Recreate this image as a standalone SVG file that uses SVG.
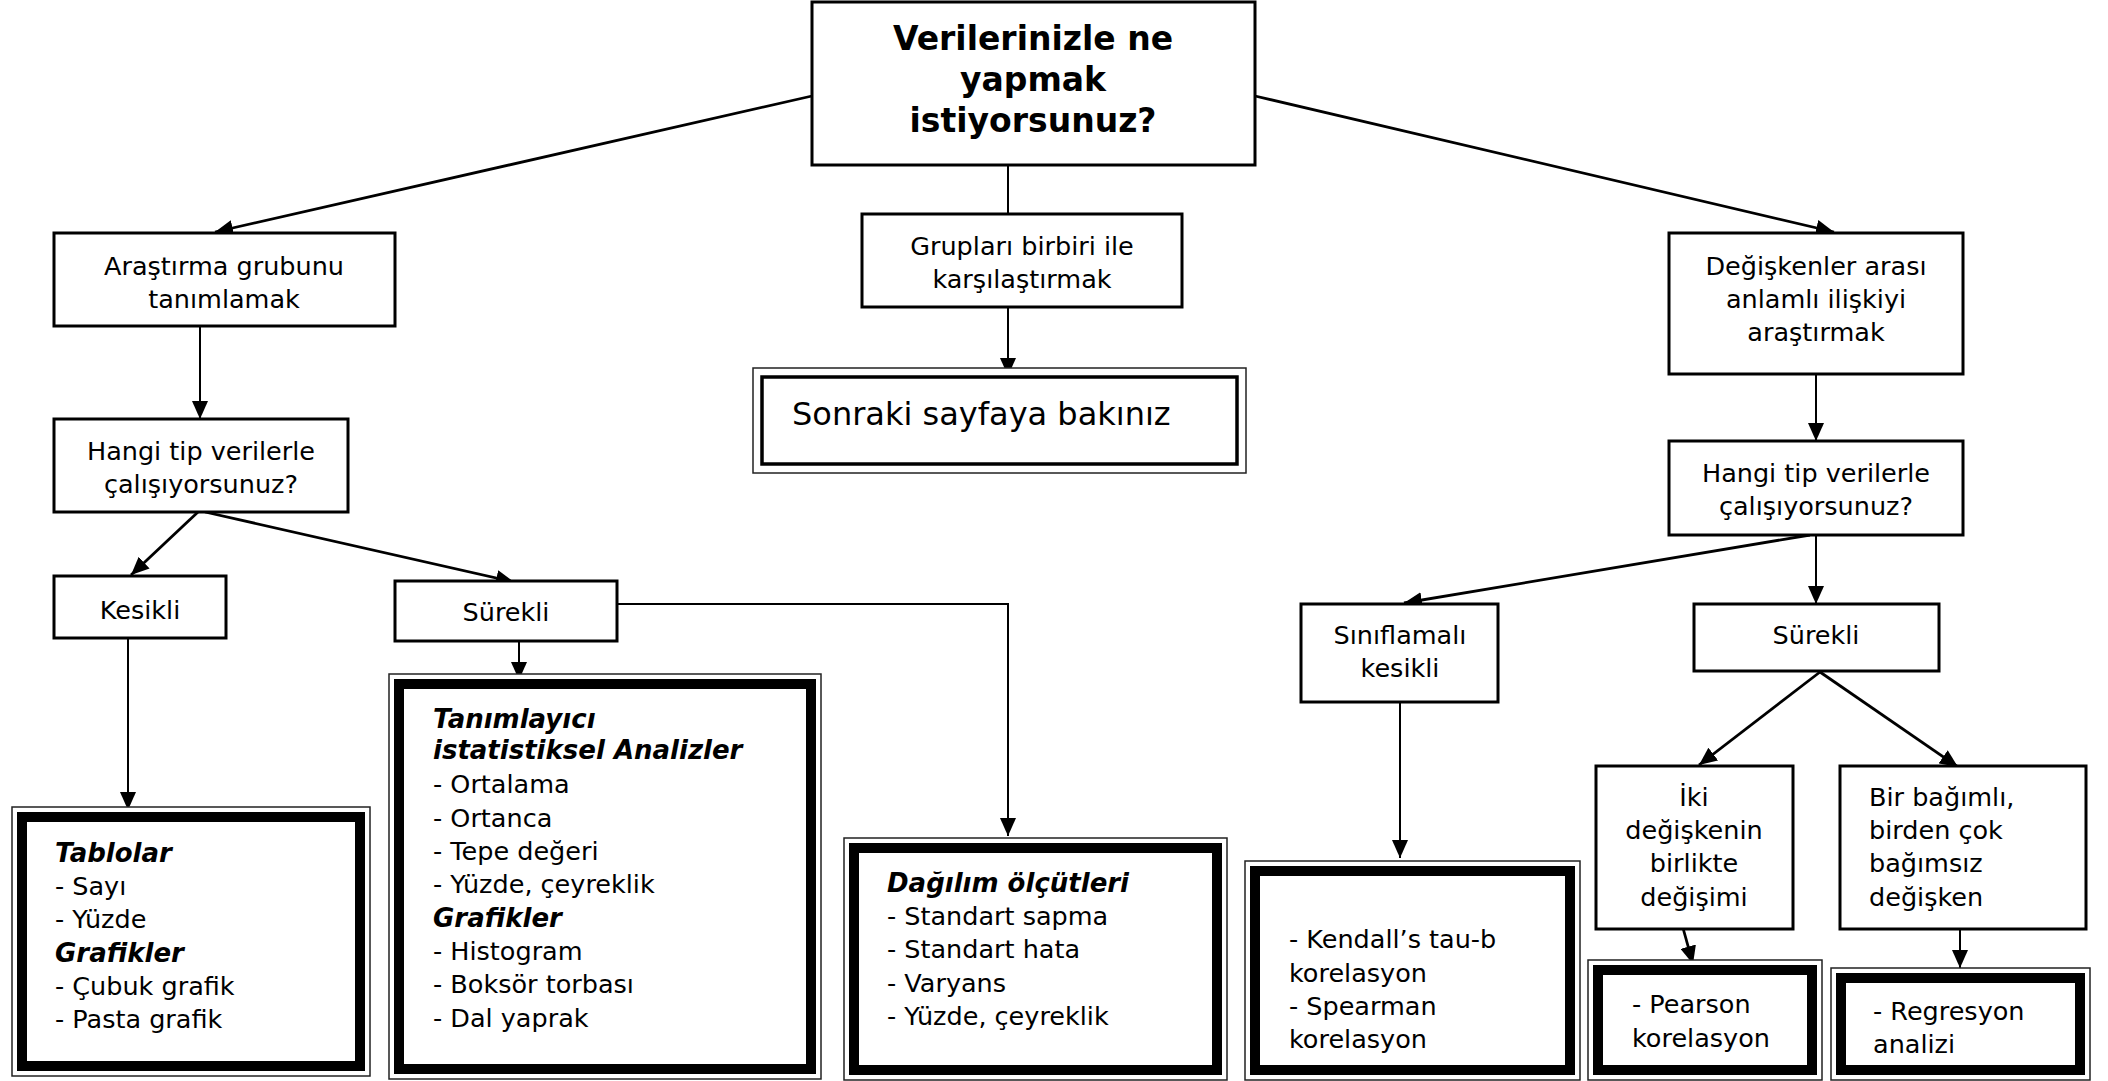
<svg xmlns="http://www.w3.org/2000/svg" width="2108" height="1081" viewBox="0 0 2108 1081">
<defs>
<style>
text{font-family:Verdana,"DejaVu Sans",sans-serif;font-size:25.5px;fill:#000}
.c{text-anchor:middle}
.bi{font-weight:bold;font-style:italic;font-size:26px}
.title{font-weight:bold;font-size:33px;text-anchor:middle}
.box{fill:#fff;stroke:#000;stroke-width:3}
.o{fill:#fff;stroke:#222;stroke-width:1.5}
.t{fill:none;stroke:#000;stroke-width:10}
.dl{fill:none;stroke:#000;stroke-width:3.5}
.ln{fill:none;stroke:#000;stroke-width:2}
.ld{fill:none;stroke:#000;stroke-width:2.8}
</style>
<marker id="ah" viewBox="0 0 18 16" refX="18" refY="8" markerWidth="18" markerHeight="16" markerUnits="userSpaceOnUse" orient="auto">
<path d="M0,0 L18,8 L0,16 Z" fill="#000"/>
</marker>
</defs>
<rect width="2108" height="1081" fill="#fff"/>

<g id="connectors">
<line class="ld" x1="812" y1="96" x2="215" y2="232" marker-end="url(#ah)"/>
<line class="ln" x1="1008" y1="165" x2="1008" y2="214"/>
<line class="ln" x1="1008" y1="307" x2="1008" y2="376" marker-end="url(#ah)"/>
<line class="ld" x1="1255" y1="96" x2="1834" y2="232" marker-end="url(#ah)"/>
<line class="ln" x1="200" y1="326" x2="200" y2="419" marker-end="url(#ah)"/>
<line class="ld" x1="198" y1="512" x2="131" y2="575" marker-end="url(#ah)"/>
<line class="ld" x1="205" y1="512" x2="514" y2="582" marker-end="url(#ah)"/>
<line class="ln" x1="128" y1="638" x2="128" y2="810" marker-end="url(#ah)"/>
<line class="ln" x1="519" y1="641" x2="519" y2="680" marker-end="url(#ah)"/>
<polyline class="ln" points="617,604 1008,604 1008,836" marker-end="url(#ah)"/>
<line class="ln" x1="1816" y1="374" x2="1816" y2="441" marker-end="url(#ah)"/>
<line class="ld" x1="1810" y1="535" x2="1404" y2="603" marker-end="url(#ah)"/>
<line class="ln" x1="1816" y1="535" x2="1816" y2="604" marker-end="url(#ah)"/>
<line class="ln" x1="1400" y1="702" x2="1400" y2="858" marker-end="url(#ah)"/>
<line class="ld" x1="1820" y1="672" x2="1699" y2="765" marker-end="url(#ah)"/>
<line class="ld" x1="1820" y1="672" x2="1958" y2="767" marker-end="url(#ah)"/>
<line class="ld" x1="1683" y1="928" x2="1693" y2="964" marker-end="url(#ah)"/>
<line class="ln" x1="1960" y1="923" x2="1960" y2="968" marker-end="url(#ah)"/>
</g>

<g id="n-title">
<rect class="box" x="812" y="2" width="443" height="163"/>
<text class="title" x="1033" y="50">Verilerinizle ne</text>
<text class="title" x="1033" y="91">yapmak</text>
<text class="title" x="1033" y="132">istiyorsunuz?</text>
</g>

<g id="n-arastirma">
<rect class="box" x="54" y="233" width="341" height="93"/>
<text class="c" x="224" y="275">Araştırma grubunu</text>
<text class="c" x="224" y="308">tanımlamak</text>
</g>

<g id="n-gruplari">
<rect class="box" x="862" y="214" width="320" height="93"/>
<text class="c" x="1022" y="255">Grupları birbiri ile</text>
<text class="c" x="1022" y="288">karşılaştırmak</text>
</g>

<g id="n-sonraki">
<rect class="o" x="753" y="368" width="493" height="105"/>
<rect class="dl" x="762" y="377" width="475" height="87"/>
<text x="792" y="425" style="font-size:32px">Sonraki sayfaya bakınız</text>
</g>

<g id="n-degiskenler">
<rect class="box" x="1669" y="233" width="294" height="141"/>
<text class="c" x="1816" y="275">Değişkenler arası</text>
<text class="c" x="1816" y="308">anlamlı ilişkiyi</text>
<text class="c" x="1816" y="341">araştırmak</text>
</g>

<g id="n-hangi1">
<rect class="box" x="54" y="419" width="294" height="93"/>
<text class="c" x="201" y="460">Hangi tip verilerle</text>
<text class="c" x="201" y="493">çalışıyorsunuz?</text>
</g>

<g id="n-hangi2">
<rect class="box" x="1669" y="441" width="294" height="94"/>
<text class="c" x="1816" y="482">Hangi tip verilerle</text>
<text class="c" x="1816" y="515">çalışıyorsunuz?</text>
</g>

<g id="n-kesikli">
<rect class="box" x="54" y="576" width="172" height="62"/>
<text class="c" x="140" y="619">Kesikli</text>
</g>

<g id="n-surekli1">
<rect class="box" x="395" y="581" width="222" height="60"/>
<text class="c" x="506" y="621">Sürekli</text>
</g>

<g id="n-siniflamali">
<rect class="box" x="1301" y="604" width="197" height="98"/>
<text class="c" x="1400" y="644">Sınıflamalı</text>
<text class="c" x="1400" y="677">kesikli</text>
</g>

<g id="n-surekli2">
<rect class="box" x="1694" y="604" width="245" height="67"/>
<text class="c" x="1816" y="644">Sürekli</text>
</g>

<g id="n-iki">
<rect class="box" x="1596" y="766" width="197" height="163"/>
<text class="c" x="1694" y="806">İki</text>
<text class="c" x="1694" y="839">değişkenin</text>
<text class="c" x="1694" y="872">birlikte</text>
<text class="c" x="1694" y="906">değişimi</text>
</g>

<g id="n-bir">
<rect class="box" x="1840" y="766" width="246" height="163"/>
<text x="1869" y="806">Bir bağımlı,</text>
<text x="1869" y="839">birden çok</text>
<text x="1869" y="872">bağımsız</text>
<text x="1869" y="906">değişken</text>
</g>

<g id="n-tablolar">
<rect class="o" x="12" y="807" width="358" height="269"/>
<rect class="t" x="22" y="817" width="338" height="249"/>
<text class="bi" x="55" y="862">Tablolar</text>
<text x="55" y="895">- Sayı</text>
<text x="55" y="928">- Yüzde</text>
<text class="bi" x="55" y="962">Grafikler</text>
<text x="55" y="995">- Çubuk grafik</text>
<text x="55" y="1028">- Pasta grafik</text>
</g>

<g id="n-tanimlayici">
<rect class="o" x="389" y="674" width="432" height="405"/>
<rect class="t" x="399" y="684" width="412" height="385"/>
<text class="bi" x="433" y="728">Tanımlayıcı</text>
<text class="bi" x="433" y="759">istatistiksel Analizler</text>
<text x="433" y="793">- Ortalama</text>
<text x="433" y="827">- Ortanca</text>
<text x="433" y="860">- Tepe değeri</text>
<text x="433" y="893">- Yüzde, çeyreklik</text>
<text class="bi" x="433" y="927">Grafikler</text>
<text x="433" y="960">- Histogram</text>
<text x="433" y="993">- Boksör torbası</text>
<text x="433" y="1027">- Dal yaprak</text>
</g>

<g id="n-dagilim">
<rect class="o" x="844" y="838" width="383" height="242"/>
<rect class="t" x="854" y="848" width="363" height="222"/>
<text class="bi" x="887" y="892">Dağılım ölçütleri</text>
<text x="887" y="925">- Standart sapma</text>
<text x="887" y="958">- Standart hata</text>
<text x="887" y="992">- Varyans</text>
<text x="887" y="1025">- Yüzde, çeyreklik</text>
</g>

<g id="n-kendall">
<rect class="o" x="1245" y="861" width="335" height="219"/>
<rect class="t" x="1255" y="871" width="315" height="199"/>
<text x="1289" y="948">- Kendall’s tau-b</text>
<text x="1289" y="982">korelasyon</text>
<text x="1289" y="1015">- Spearman</text>
<text x="1289" y="1048">korelasyon</text>
</g>

<g id="n-pearson">
<rect class="o" x="1588" y="960" width="234" height="120"/>
<rect class="t" x="1598" y="970" width="214" height="100"/>
<text x="1632" y="1013">- Pearson</text>
<text x="1632" y="1047">korelasyon</text>
</g>

<g id="n-regresyon">
<rect class="o" x="1831" y="968" width="259" height="112"/>
<rect class="t" x="1841" y="978" width="239" height="92"/>
<text x="1873" y="1020">- Regresyon</text>
<text x="1873" y="1053">analizi</text>
</g>
</svg>
